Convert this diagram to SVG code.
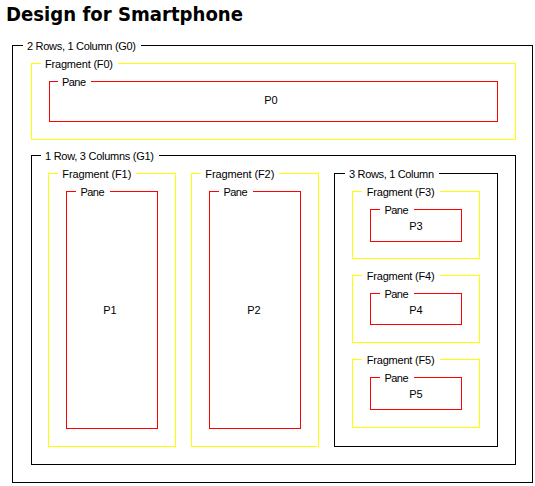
<svg xmlns="http://www.w3.org/2000/svg" width="535" height="486" viewBox="0 0 535 486">
  <style>
    .box { fill: none; stroke-width: 1; shape-rendering: crispEdges; }
    .grid { stroke: #000000; }
    .frag { stroke: #ffff00; }
    .pane { stroke: #ff0000; }
    .gap { fill: #ffffff; stroke: none; }
    .lbl { font-family: "Liberation Sans", Arial, sans-serif; font-size: 11px; fill: #000000; }
    .name { font-family: "Liberation Sans", Arial, sans-serif; font-size: 11px; fill: #000000; text-anchor: middle; }
    .title { font-family: "DejaVu Sans", Verdana, sans-serif; font-size: 19px; font-weight: bold; fill: #000000; }
  </style>
  <rect width="535" height="486" fill="#ffffff"/>

  <text class="title" x="6" y="20.5" textLength="237" lengthAdjust="spacingAndGlyphs">Design for Smartphone</text>

  <!-- outer grid: 2 rows, 1 column -->
  <g id="G0">
    <rect class="box grid" x="12.5" y="45.5" width="520" height="437"/>
    <rect class="gap" x="23" y="40" width="118" height="12"/>
    <text class="lbl" x="27" y="49.5" textLength="109">2 Rows, 1 Column (G0)</text>
  </g>

  <g id="F0">
    <rect class="box frag" x="31.5" y="63.5" width="484" height="76"/>
    <rect class="gap" x="41" y="58" width="77" height="12"/>
    <text class="lbl" x="45" y="67.5" textLength="68">Fragment (F0)</text>
  </g>
  <g id="P0">
    <rect class="box pane" x="49.5" y="81.5" width="448" height="40"/>
    <rect class="gap" x="58" y="76" width="33" height="12"/>
    <text class="lbl" x="62" y="85.5" textLength="24">Pane</text>
    <text class="name" x="271" y="104">P0</text>
  </g>

  <!-- second row: 1 row, 3 columns -->
  <g id="G1">
    <rect class="box grid" x="31.5" y="155.5" width="484" height="309"/>
    <rect class="gap" x="41" y="150" width="118" height="12"/>
    <text class="lbl" x="45" y="159.5" textLength="109">1 Row, 3 Columns (G1)</text>
  </g>

  <g id="F1">
    <rect class="box frag" x="48.5" y="173.5" width="127" height="273"/>
    <rect class="gap" x="58" y="168" width="78" height="12"/>
    <text class="lbl" x="62.3" y="177.5" textLength="69">Fragment (F1)</text>
  </g>
  <g id="P1">
    <rect class="box pane" x="66.5" y="191.5" width="91" height="237"/>
    <rect class="gap" x="76" y="186" width="34" height="12"/>
    <text class="lbl" x="80.5" y="195.5" textLength="24">Pane</text>
    <text class="name" x="110" y="314">P1</text>
  </g>

  <g id="F2">
    <rect class="box frag" x="191.5" y="173.5" width="127" height="273"/>
    <rect class="gap" x="201" y="168" width="78" height="12"/>
    <text class="lbl" x="205.3" y="177.5" textLength="69">Fragment (F2)</text>
  </g>
  <g id="P2">
    <rect class="box pane" x="209.5" y="191.5" width="91" height="237"/>
    <rect class="gap" x="219" y="186" width="34" height="12"/>
    <text class="lbl" x="223.5" y="195.5" textLength="24">Pane</text>
    <text class="name" x="254" y="314">P2</text>
  </g>

  <!-- third column: 3 rows, 1 column -->
  <g id="G2">
    <rect class="box grid" x="334.5" y="173.5" width="163" height="273"/>
    <rect class="gap" x="345" y="168" width="94" height="12"/>
    <text class="lbl" x="349" y="177.5" textLength="85">3 Rows, 1 Column</text>
  </g>

  <g id="F3">
    <rect class="box frag" x="352.5" y="191.5" width="127" height="67"/>
    <rect class="gap" x="362" y="186" width="78" height="12"/>
    <text class="lbl" x="366.7" y="195.5" textLength="68">Fragment (F3)</text>
  </g>
  <g id="P3">
    <rect class="box pane" x="370.5" y="209.5" width="91" height="32"/>
    <rect class="gap" x="380" y="204" width="34" height="12"/>
    <text class="lbl" x="384.5" y="213.5" textLength="24">Pane</text>
    <text class="name" x="416" y="229.5">P3</text>
  </g>

  <g id="F4">
    <rect class="box frag" x="352.5" y="275.5" width="127" height="67"/>
    <rect class="gap" x="362" y="270" width="78" height="12"/>
    <text class="lbl" x="366.7" y="279.5" textLength="68">Fragment (F4)</text>
  </g>
  <g id="P4">
    <rect class="box pane" x="370.5" y="293.5" width="91" height="31"/>
    <rect class="gap" x="380" y="288" width="34" height="12"/>
    <text class="lbl" x="384.5" y="297.5" textLength="24">Pane</text>
    <text class="name" x="416" y="313.5">P4</text>
  </g>

  <g id="F5">
    <rect class="box frag" x="352.5" y="359.5" width="127" height="68"/>
    <rect class="gap" x="362" y="354" width="78" height="12"/>
    <text class="lbl" x="366.7" y="363.5" textLength="68">Fragment (F5)</text>
  </g>
  <g id="P5">
    <rect class="box pane" x="370.5" y="377.5" width="91" height="32"/>
    <rect class="gap" x="380" y="372" width="34" height="12"/>
    <text class="lbl" x="384.5" y="381.5" textLength="24">Pane</text>
    <text class="name" x="416" y="397.5">P5</text>
  </g>

  <g id="connectors"/>
</svg>
